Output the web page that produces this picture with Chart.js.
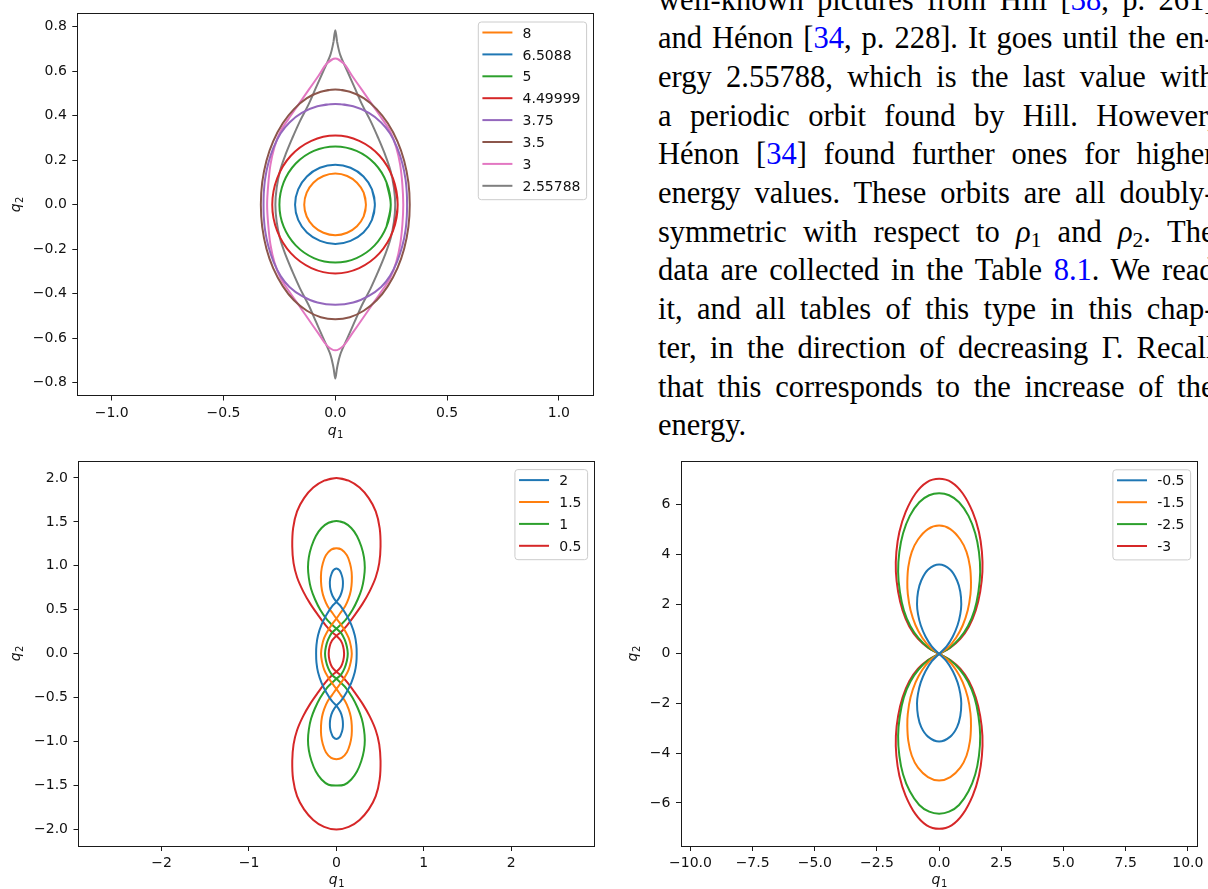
<!DOCTYPE html>
<html>
<head>
<meta charset="utf-8">
<script src="https://cdn.jsdelivr.net/npm/chart.js@4/dist/chart.umd.min.js"></script>
<style>
  html, body { margin: 0; padding: 0; width: 1208px; height: 889px; overflow: hidden; background: #fff; }
  canvas { position: absolute; }
  #c1 { left: 0; top: 0; }
  #c2 { left: 0; top: 445px; }
  #c3 { left: 600px; top: 445px; }
  #txt {
    position: absolute; left: 658px; top: -19.5px; width: 556.5px;
    font-family: "Liberation Serif", "Times New Roman", serif;
    font-size: 30.5px; line-height: 38.7px; color: #000;
  }
  #txt .ln { text-align: justify; text-align-last: justify; }
  #txt .ln.end { text-align: left; text-align-last: left; }
  #txt .ref { color: #0000ff; }
  #txt sub { font-size: 0.7em; vertical-align: -0.22em; line-height: 0; }
</style>
</head>
<body>
<canvas id="c1" width="600" height="445"></canvas>
<canvas id="c2" width="600" height="444"></canvas>
<canvas id="c3" width="608" height="444"></canvas>

<div id="txt">
  <div class="ln">well-known pictures from Hill [<span class="ref">38</span>, p. 261]</div>
  <div class="ln">and Hénon [<span class="ref">34</span>, p. 228]. It goes until the en-</div>
  <div class="ln">ergy 2.55788, which is the last value with</div>
  <div class="ln">a periodic orbit found by Hill. However,</div>
  <div class="ln">Hénon [<span class="ref">34</span>] found further ones for higher</div>
  <div class="ln">energy values. These orbits are all doubly-</div>
  <div class="ln">symmetric with respect to <i>ρ</i><sub>1</sub> and <i>ρ</i><sub>2</sub>. The</div>
  <div class="ln">data are collected in the Table <span class="ref">8.1</span>. We read</div>
  <div class="ln">it, and all tables of this type in this chap-</div>
  <div class="ln">ter, in the direction of decreasing Γ. Recall</div>
  <div class="ln">that this corresponds to the increase of the</div>
  <div class="ln end">energy.</div>
</div>

<script>
// ---- top panel: energies 8 ... 2.55788 ----
const topLabels = ['8', '6.5088', '5', '4.49999', '3.75', '3.5', '3', '2.55788'];
const topXTicks = [-1, -0.5, 0, 0.5, 1];
const topYTicks = [-0.8, -0.6, -0.4, -0.2, 0, 0.2, 0.4, 0.6, 0.8];

const orbit8 = [[0.137,0],[0.127,0.054],[0.097,0.099],[0.053,0.129],[0,0.14],[-0.053,0.129],[-0.098,0.099],[-0.128,0.054],[-0.139,0],[-0.128,-0.053],[-0.098,-0.097],[-0.053,-0.126],[0,-0.137],[0.053,-0.126],[0.097,-0.097],[0.127,-0.053],[0.137,0]];
const orbit65088 = [[0.177,0],[0.164,0.069],[0.126,0.127],[0.068,0.166],[0,0.18],[-0.069,0.166],[-0.127,0.127],[-0.166,0.069],[-0.18,0],[-0.166,-0.068],[-0.127,-0.125],[-0.068,-0.163],[0,-0.177],[0.068,-0.163],[0.126,-0.125],[0.164,-0.068],[0.177,0]];
const orbit5 = [[0.248,0],[0.229,0.1],[0.176,0.185],[0.095,0.242],[0,0.262],[-0.096,0.242],[-0.177,0.185],[-0.231,0.1],[-0.25,0],[-0.231,-0.099],[-0.177,-0.183],[-0.096,-0.24],[0,-0.26],[0.095,-0.24],[0.176,-0.183],[0.229,-0.099],[0.248,0]];
const orbit449999 = [[0.279,0],[0.258,0.119],[0.198,0.22],[0.107,0.287],[0,0.311],[-0.107,0.287],[-0.199,0.22],[-0.26,0.119],[-0.282,0],[-0.26,-0.118],[-0.199,-0.218],[-0.107,-0.285],[0,-0.309],[0.107,-0.285],[0.198,-0.218],[0.258,-0.118],[0.279,0]];
const orbit375 = [[0,0.453],[0.08,0.443],[0.15,0.413],[0.205,0.37],[0.245,0.32],[0.277,0.255],[0.3,0.185],[0.314,0.115],[0.32,0.05],[0.321,0],[0.32,-0.05],[0.314,-0.115],[0.3,-0.185],[0.277,-0.255],[0.245,-0.32],[0.205,-0.37],[0.15,-0.41],[0.08,-0.44],[0,-0.45],[-0.08,-0.44],[-0.15,-0.41],[-0.205,-0.37],[-0.245,-0.32],[-0.277,-0.255],[-0.3,-0.185],[-0.314,-0.115],[-0.32,-0.05],[-0.321,0],[-0.32,0.05],[-0.314,0.115],[-0.3,0.185],[-0.277,0.255],[-0.245,0.32],[-0.205,0.37],[-0.15,0.413],[-0.08,0.443],[0,0.453]];
const orbit35 = [[0,0.518],[0.065,0.508],[0.127,0.479],[0.185,0.43],[0.235,0.366],[0.278,0.285],[0.308,0.198],[0.327,0.1],[0.333,0],[0.327,-0.1],[0.308,-0.198],[0.278,-0.285],[0.235,-0.366],[0.185,-0.43],[0.127,-0.477],[0.065,-0.506],[0,-0.515],[-0.065,-0.506],[-0.127,-0.477],[-0.185,-0.43],[-0.235,-0.366],[-0.278,-0.285],[-0.308,-0.198],[-0.327,-0.1],[-0.333,0],[-0.327,0.1],[-0.308,0.198],[-0.278,0.285],[-0.235,0.366],[-0.185,0.43],[-0.127,0.479],[-0.065,0.508],[0,0.518]];
const orbit3 = [[0,0.657],[0.036,0.637],[0.075,0.58],[0.12,0.515],[0.165,0.45],[0.21,0.385],[0.245,0.33],[0.272,0.26],[0.29,0.18],[0.3,0.09],[0.304,0],[0.3,-0.09],[0.29,-0.18],[0.272,-0.26],[0.245,-0.33],[0.21,-0.385],[0.165,-0.45],[0.12,-0.515],[0.075,-0.58],[0.036,-0.635],[0,-0.655],[-0.036,-0.635],[-0.075,-0.58],[-0.12,-0.515],[-0.165,-0.45],[-0.21,-0.385],[-0.245,-0.33],[-0.272,-0.26],[-0.29,-0.18],[-0.3,-0.09],[-0.305,0],[-0.3,0.09],[-0.29,0.18],[-0.272,0.26],[-0.245,0.33],[-0.21,0.385],[-0.165,0.45],[-0.12,0.515],[-0.075,0.58],[-0.036,0.637],[0,0.657]];
const orbit255788 = [[0,0.785],[0.008,0.733],[0.022,0.674],[0.054,0.6],[0.087,0.525],[0.12,0.45],[0.158,0.376],[0.192,0.3],[0.222,0.227],[0.247,0.153],[0.262,0.078],[0.268,0],[0.262,-0.078],[0.247,-0.153],[0.222,-0.227],[0.192,-0.3],[0.158,-0.376],[0.12,-0.45],[0.087,-0.525],[0.054,-0.6],[0.022,-0.674],[0.008,-0.733],[0,-0.782],[-0.008,-0.733],[-0.022,-0.674],[-0.054,-0.6],[-0.087,-0.525],[-0.12,-0.45],[-0.158,-0.376],[-0.192,-0.3],[-0.222,-0.227],[-0.247,-0.153],[-0.262,-0.078],[-0.268,0],[-0.262,0.078],[-0.247,0.153],[-0.222,0.227],[-0.192,0.3],[-0.158,0.376],[-0.12,0.45],[-0.087,0.525],[-0.054,0.6],[-0.022,0.674],[-0.008,0.733],[0,0.785]];

// ---- bottom-left panel: energies 2 ... 0.5 ----
const midLabels = ['2', '1.5', '1', '0.5'];
const midXTicks = [-2, -1, 0, 1, 2];
const midYTicks = [-2, -1.5, -1, -0.5, 0, 0.5, 1, 1.5, 2];

const orbit2 = [[0,0.97],[0.035,0.95],[0.055,0.91],[0.07,0.86],[0.075,0.8],[0.068,0.73],[0.045,0.66],[0,0.59],[-0.05,0.54],[-0.115,0.44],[-0.17,0.33],[-0.21,0.21],[-0.228,0.1],[-0.232,0],[-0.228,-0.1],[-0.21,-0.21],[-0.17,-0.33],[-0.115,-0.44],[-0.05,-0.54],[0,-0.59],[0.045,-0.66],[0.068,-0.73],[0.075,-0.8],[0.07,-0.86],[0.055,-0.91],[0.035,-0.95],[0,-0.97],[-0.035,-0.95],[-0.055,-0.91],[-0.07,-0.86],[-0.075,-0.8],[-0.068,-0.73],[-0.045,-0.66],[0,-0.59],[0.05,-0.54],[0.115,-0.44],[0.17,-0.33],[0.21,-0.21],[0.228,-0.1],[0.232,0],[0.228,0.1],[0.21,0.21],[0.17,0.33],[0.115,0.44],[0.05,0.54],[0,0.59],[-0.045,0.66],[-0.068,0.73],[-0.075,0.8],[-0.07,0.86],[-0.055,0.91],[-0.035,0.95],[0,0.97]];
const orbit15 = [[0,1.2],[0.06,1.185],[0.12,1.12],[0.155,1.03],[0.174,0.93],[0.176,0.82],[0.165,0.72],[0.14,0.63],[0.1,0.54],[0.05,0.47],[0,0.4],[-0.05,0.335],[-0.1,0.26],[-0.14,0.18],[-0.165,0.09],[-0.176,0],[-0.165,-0.09],[-0.14,-0.18],[-0.1,-0.26],[-0.05,-0.335],[0,-0.4],[0.05,-0.47],[0.1,-0.54],[0.14,-0.63],[0.165,-0.72],[0.176,-0.82],[0.174,-0.93],[0.155,-1.03],[0.12,-1.12],[0.06,-1.185],[0,-1.2],[-0.06,-1.185],[-0.12,-1.12],[-0.155,-1.03],[-0.174,-0.93],[-0.176,-0.82],[-0.165,-0.72],[-0.14,-0.63],[-0.1,-0.54],[-0.05,-0.47],[0,-0.4],[0.05,-0.335],[0.1,-0.26],[0.14,-0.18],[0.165,-0.09],[0.176,0],[0.165,0.09],[0.14,0.18],[0.1,0.26],[0.05,0.335],[0,0.4],[-0.05,0.47],[-0.1,0.54],[-0.14,0.63],[-0.165,0.72],[-0.176,0.82],[-0.174,0.93],[-0.155,1.03],[-0.12,1.12],[-0.06,1.185],[0,1.2]];
const orbit1 = [[0,1.51],[0.09,1.49],[0.17,1.43],[0.235,1.34],[0.285,1.22],[0.315,1.1],[0.325,0.98],[0.315,0.86],[0.29,0.74],[0.245,0.62],[0.185,0.5],[0.11,0.39],[0.05,0.33],[0,0.285],[-0.055,0.235],[-0.095,0.16],[-0.12,0.08],[-0.13,0],[-0.12,-0.08],[-0.095,-0.16],[-0.055,-0.235],[0,-0.285],[0.05,-0.33],[0.11,-0.39],[0.185,-0.5],[0.245,-0.62],[0.29,-0.74],[0.315,-0.86],[0.325,-0.98],[0.315,-1.1],[0.285,-1.22],[0.235,-1.34],[0.17,-1.43],[0.09,-1.49],[0,-1.5],[-0.09,-1.49],[-0.17,-1.43],[-0.235,-1.34],[-0.285,-1.22],[-0.315,-1.1],[-0.325,-0.98],[-0.315,-0.86],[-0.29,-0.74],[-0.245,-0.62],[-0.185,-0.5],[-0.11,-0.39],[-0.05,-0.33],[0,-0.285],[0.055,-0.235],[0.095,-0.16],[0.12,-0.08],[0.13,0],[0.12,0.08],[0.095,0.16],[0.055,0.235],[0,0.285],[-0.05,0.33],[-0.11,0.39],[-0.185,0.5],[-0.245,0.62],[-0.29,0.74],[-0.315,0.86],[-0.325,0.98],[-0.315,1.1],[-0.285,1.22],[-0.235,1.34],[-0.17,1.43],[-0.09,1.49],[0,1.51]];
const orbit05 = [[0,2],[0.14,1.97],[0.265,1.89],[0.37,1.77],[0.45,1.62],[0.495,1.43],[0.505,1.22],[0.49,1.03],[0.45,0.87],[0.38,0.71],[0.3,0.57],[0.21,0.44],[0.12,0.32],[0.05,0.245],[0,0.205],[-0.05,0.15],[-0.078,0.08],[-0.088,0],[-0.078,-0.08],[-0.05,-0.15],[0,-0.205],[0.05,-0.245],[0.12,-0.32],[0.21,-0.44],[0.3,-0.57],[0.38,-0.71],[0.45,-0.87],[0.49,-1.03],[0.505,-1.22],[0.495,-1.43],[0.45,-1.62],[0.37,-1.77],[0.265,-1.89],[0.14,-1.97],[0,-2],[-0.14,-1.97],[-0.265,-1.89],[-0.37,-1.77],[-0.45,-1.62],[-0.495,-1.43],[-0.505,-1.22],[-0.49,-1.03],[-0.45,-0.87],[-0.38,-0.71],[-0.3,-0.57],[-0.21,-0.44],[-0.12,-0.32],[-0.05,-0.245],[0,-0.205],[0.05,-0.15],[0.078,-0.08],[0.088,0],[0.078,0.08],[0.05,0.15],[0,0.205],[-0.05,0.245],[-0.12,0.32],[-0.21,0.44],[-0.3,0.57],[-0.38,0.71],[-0.45,0.87],[-0.49,1.03],[-0.505,1.22],[-0.495,1.43],[-0.45,1.62],[-0.37,1.77],[-0.265,1.89],[-0.14,1.97],[0,2]];

// ---- bottom-right panel: energies -0.5 ... -3 ----
const lowLabels = ['-0.5', '-1.5', '-2.5', '-3'];
const lowXTicks = [-10, -7.5, -5, -2.5, 0, 2.5, 5, 7.5, 10];
const lowYTicks = [-6, -4, -2, 0, 2, 4, 6];

const orbitM05 = [[0,0],[0.3,0.3],[0.55,0.7],[0.74,1.15],[0.85,1.6],[0.89,2],[0.85,2.5],[0.72,2.95],[0.45,3.38],[0,3.59],[-0.45,3.38],[-0.72,2.95],[-0.85,2.5],[-0.89,2],[-0.85,1.6],[-0.74,1.15],[-0.55,0.7],[-0.3,0.3],[0,0],[0.3,-0.3],[0.55,-0.7],[0.74,-1.15],[0.85,-1.6],[0.89,-2],[0.85,-2.5],[0.72,-2.95],[0.45,-3.33],[0,-3.53],[-0.45,-3.33],[-0.72,-2.95],[-0.85,-2.5],[-0.89,-2],[-0.85,-1.6],[-0.74,-1.15],[-0.55,-0.7],[-0.3,-0.3],[0,0]];
const orbitM15 = [[0,0],[0.35,0.25],[0.68,0.65],[0.95,1.15],[1.15,1.75],[1.26,2.4],[1.28,2.9],[1.24,3.5],[1.1,4.1],[0.85,4.6],[0.45,5.02],[0,5.16],[-0.45,5.02],[-0.85,4.6],[-1.1,4.1],[-1.24,3.5],[-1.28,2.9],[-1.26,2.4],[-1.15,1.75],[-0.95,1.15],[-0.68,0.65],[-0.35,0.25],[0,0],[0.35,-0.25],[0.68,-0.65],[0.95,-1.15],[1.15,-1.75],[1.26,-2.4],[1.28,-2.9],[1.24,-3.5],[1.1,-4.1],[0.85,-4.58],[0.45,-4.96],[0,-5.1],[-0.45,-4.96],[-0.85,-4.58],[-1.1,-4.1],[-1.24,-3.5],[-1.28,-2.9],[-1.26,-2.4],[-1.15,-1.75],[-0.95,-1.15],[-0.68,-0.65],[-0.35,-0.25],[0,0]];
const orbitM25 = [[0,0],[0.43,0.25],[0.82,0.62],[1.16,1.12],[1.42,1.75],[1.58,2.5],[1.65,3.3],[1.6,4.1],[1.45,4.85],[1.18,5.55],[0.8,6.1],[0.4,6.38],[0,6.46],[-0.4,6.38],[-0.8,6.1],[-1.18,5.55],[-1.45,4.85],[-1.6,4.1],[-1.65,3.3],[-1.58,2.5],[-1.42,1.75],[-1.16,1.12],[-0.82,0.62],[-0.43,0.25],[0,0],[0.43,-0.25],[0.82,-0.62],[1.16,-1.12],[1.42,-1.75],[1.58,-2.5],[1.65,-3.3],[1.6,-4.1],[1.45,-4.85],[1.18,-5.53],[0.8,-6.08],[0.4,-6.35],[0,-6.43],[-0.4,-6.35],[-0.8,-6.08],[-1.18,-5.53],[-1.45,-4.85],[-1.6,-4.1],[-1.65,-3.3],[-1.58,-2.5],[-1.42,-1.75],[-1.16,-1.12],[-0.82,-0.62],[-0.43,-0.25],[0,0]];
const orbitM3 = [[0,0],[0.45,0.25],[0.85,0.6],[1.2,1.1],[1.47,1.75],[1.65,2.5],[1.74,3.3],[1.72,4.1],[1.6,4.9],[1.35,5.7],[0.95,6.45],[0.5,6.9],[0,7.04],[-0.5,6.9],[-0.95,6.45],[-1.35,5.7],[-1.6,4.9],[-1.72,4.1],[-1.74,3.3],[-1.65,2.5],[-1.47,1.75],[-1.2,1.1],[-0.85,0.6],[-0.45,0.25],[0,0],[0.45,-0.25],[0.85,-0.6],[1.2,-1.1],[1.47,-1.75],[1.65,-2.5],[1.74,-3.3],[1.72,-4.1],[1.6,-4.9],[1.35,-5.7],[0.95,-6.45],[0.5,-6.9],[0,-7.04],[-0.5,-6.9],[-0.95,-6.45],[-1.35,-5.7],[-1.6,-4.9],[-1.72,-4.1],[-1.74,-3.3],[-1.65,-2.5],[-1.47,-1.75],[-1.2,-1.1],[-0.85,-0.6],[-0.45,-0.25],[0,0]];

// matplotlib tab10
const tab = {
  blue: '#1f77b4', orange: '#ff7f0e', green: '#2ca02c', red: '#d62728',
  purple: '#9467bd', brown: '#8c564b', pink: '#e377c2', gray: '#7f7f7f'
};

Chart.defaults.font.family = '"DejaVu Sans", sans-serif';
Chart.defaults.font.size = 14;
Chart.defaults.color = '#111';

// q with a subscript, like matplotlib mathtext $q_1$
function drawQ(ctx, sub, cx, cy, rot) {
  ctx.save();
  ctx.translate(cx, cy);
  ctx.rotate(rot);
  ctx.fillStyle = '#111';
  ctx.textAlign = 'left';
  ctx.textBaseline = 'alphabetic';
  ctx.font = 'italic 14px "DejaVu Sans"';
  const wq = ctx.measureText('q').width;
  ctx.font = '10px "DejaVu Sans"';
  const ws = ctx.measureText(sub).width;
  const x0 = -(wq + ws) / 2;
  ctx.font = 'italic 14px "DejaVu Sans"';
  ctx.fillText('q', x0, 2);
  ctx.font = '10px "DejaVu Sans"';
  ctx.fillText(sub, x0 + wq + 0.5, 5);
  ctx.restore();
}

const framePlugin = {
  id: 'frame',
  afterDraw(chart, args, o) {
    const ctx = chart.ctx;
    const a = chart.chartArea;
    ctx.save();

    // all four spines
    ctx.strokeStyle = '#1a1a1a';
    ctx.lineWidth = 1;
    const l = Math.floor(a.left) + 0.5, t = Math.floor(a.top) + 0.5;
    const r = Math.floor(a.right) + 0.5, b = Math.floor(a.bottom) + 0.5;
    ctx.strokeRect(l, t, r - l, b - t);

    drawQ(ctx, '1', (a.left + a.right) / 2, a.bottom + o.xTitleGap, 0);
    drawQ(ctx, '2', o.yTitleX, (a.top + a.bottom) / 2, -Math.PI / 2);

    // legend box, upper right
    ctx.font = '14px "DejaVu Sans"';
    const tw = Math.max(...o.labels.map(s => ctx.measureText(s).width));
    const bw = 5.6 * 2 + 28 + 11.2 + tw;
    const bh = 24.4 + (o.labels.length - 1) * 21.9;
    const bx = a.right - 7.2 - bw;
    const by = a.top + 7.6;
    ctx.beginPath();
    if (ctx.roundRect) ctx.roundRect(bx + 0.5, by + 0.5, bw, bh, 3);
    else ctx.rect(bx + 0.5, by + 0.5, bw, bh);
    ctx.fillStyle = 'rgba(255,255,255,0.8)';
    ctx.fill();
    ctx.strokeStyle = '#cccccc';
    ctx.lineWidth = 1;
    ctx.stroke();

    o.labels.forEach((lab, i) => {
      const y = by + 11 + i * 21.9;
      ctx.beginPath();
      ctx.moveTo(bx + 5.6, y);
      ctx.lineTo(bx + 33.6, y);
      ctx.strokeStyle = o.colors[i];
      ctx.lineWidth = 2;
      ctx.lineCap = 'square';
      ctx.stroke();
      ctx.fillStyle = '#111';
      ctx.textAlign = 'left';
      ctx.textBaseline = 'alphabetic';
      ctx.fillText(lab, bx + 44.8, y + 5.1);
    });
    ctx.restore();
  }
};

function axis(lim, ticks, digits, fitSize, isX) {
  return {
    type: 'linear',
    min: -lim, max: lim,
    afterBuildTicks: s => { s.ticks = ticks.map(v => ({ value: v })); },
    afterFit: s => { if (isX) s.height = fitSize; else s.width = fitSize; },
    grid: { display: true, drawOnChartArea: false, drawTicks: true, tickLength: 5, color: '#1a1a1a', lineWidth: 1 },
    border: { display: false },
    ticks: {
      autoSkip: false, maxRotation: 0, padding: isX ? 4 : 5.5,
      color: '#111', font: { size: 14 },
      callback: v => (v < 0 ? '\u2212' : '') + Math.abs(v).toFixed(digits)
    }
  };
}

function makeChart(id, curves, labels, colors, cfg) {
  const datasets = curves.map((c, i) => {
    // closed loop: repeat the neighbours at both ends so the spline has no corner at the seam
    const n = c.length;
    const closed = c[0][0] === c[n - 1][0] && c[0][1] === c[n - 1][1];
    const pts = closed ? [c[n - 2], ...c, c[1]] : c;
    return {
      label: labels[i],
      data: pts.map(p => ({ x: p[0], y: p[1] })),
      showLine: true,
      borderColor: colors[i],
      borderWidth: 2,
      borderJoinStyle: 'round',
      pointRadius: 0,
      tension: 0.34,
      fill: false
    };
  });
  return new Chart(document.getElementById(id), {
    type: 'scatter',
    data: { datasets },
    options: {
      responsive: false,
      animation: false,
      devicePixelRatio: 1,
      events: [],
      layout: { padding: cfg.pad },
      scales: {
        x: axis(cfg.xlim, cfg.xticks, cfg.xdig, cfg.xh, true),
        y: axis(cfg.ylim, cfg.yticks, cfg.ydig, cfg.yw, false)
      },
      plugins: {
        legend: { display: false },
        tooltip: { enabled: false },
        frame: { labels, colors, xTitleGap: cfg.xTitleGap, yTitleX: cfg.yTitleX }
      }
    },
    plugins: [framePlugin]
  });
}

makeChart('c1',
  [orbit8, orbit65088, orbit5, orbit449999, orbit375, orbit35, orbit3, orbit255788],
  topLabels,
  [tab.orange, tab.blue, tab.green, tab.red, tab.purple, tab.brown, tab.pink, tab.gray],
  { pad: { left: 0, top: 11.3, right: 6.7, bottom: 0 }, yw: 77.3, xh: 49.5,
    xlim: 1.154, ylim: 0.858, xticks: topXTicks, yticks: topYTicks, xdig: 1, ydig: 1,
    xTitleGap: 37, yTitleX: 18 });

makeChart('c2',
  [orbit2, orbit15, orbit1, orbit05],
  midLabels,
  [tab.blue, tab.orange, tab.green, tab.red],
  { pad: { left: 0, top: 16.5, right: 5.7, bottom: 0 }, yw: 78.5, xh: 43,
    xlim: 2.95, ylim: 2.187, xticks: midXTicks, yticks: midYTicks, xdig: 0, ydig: 1,
    xTitleGap: 36, yTitleX: 18 });

makeChart('c3',
  [orbitM05, orbitM15, orbitM25, orbitM3],
  lowLabels,
  [tab.blue, tab.orange, tab.green, tab.red],
  { pad: { left: 0, top: 16.7, right: 10.7, bottom: 0 }, yw: 81, xh: 43,
    xlim: 10.38, ylim: 7.73, xticks: lowXTicks, yticks: lowYTicks, xdig: 1, ydig: 0,
    xTitleGap: 36, yTitleX: 34.5 });
</script>
</body>
</html>
